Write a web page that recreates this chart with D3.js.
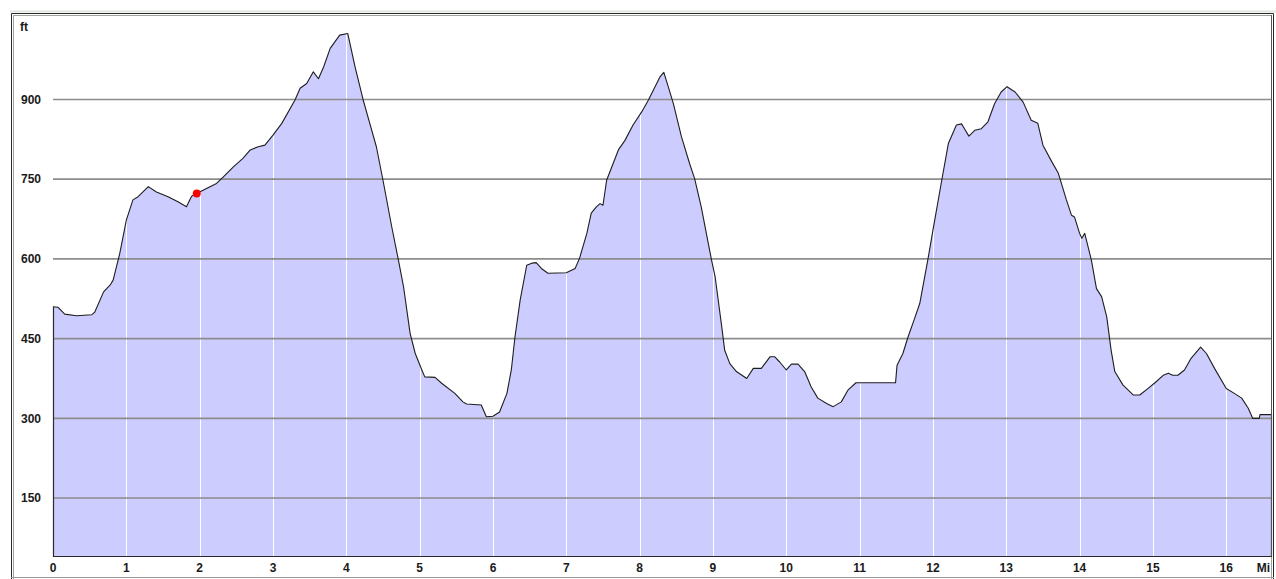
<!DOCTYPE html>
<html>
<head>
<meta charset="utf-8">
<script src="https://cdn.jsdelivr.net/npm/d3@7"></script>
<style>
  html, body { margin: 0; padding: 0; background: #fff; }
  svg { display: block; }
  text { font-family: "Liberation Sans", Arial, sans-serif; font-weight: bold; font-size: 12px; fill: #1a1a1a; }
</style>
</head>
<body>
<svg id="chart" width="1276" height="579"></svg>
<script>
// elevation profile, distance in miles / elevation in feet
var miles = [0, 0.07, 0.16, 0.32, 0.53, 0.57, 0.69, 0.78, 0.82, 0.91, 1.00, 1.09, 1.16, 1.30, 1.41, 1.57, 1.71, 1.82, 1.89, 1.96,
    2.10, 2.23, 2.32, 2.46, 2.59, 2.69, 2.80, 2.89, 3.00, 3.12, 3.30, 3.37, 3.46, 3.55, 3.62, 3.69, 3.78, 3.91, 4.02,
    4.12, 4.23, 4.32, 4.41, 4.50, 4.62, 4.71, 4.78, 4.87, 4.94, 5.03, 5.07, 5.21, 5.30, 5.48, 5.59, 5.64, 5.84, 5.91,
    6.00, 6.09, 6.19, 6.25, 6.30, 6.37, 6.46, 6.53, 6.59, 6.66, 6.75, 7.00, 7.12, 7.18, 7.28, 7.34, 7.41, 7.46, 7.50,
    7.55, 7.62, 7.71, 7.80, 7.91, 8.03, 8.12, 8.21, 8.28, 8.33, 8.39, 8.46, 8.57, 8.68, 8.75, 8.84, 8.98, 9.03, 9.12,
    9.16, 9.23, 9.32, 9.46, 9.55, 9.66, 9.78, 9.84, 9.91, 10.00, 10.07, 10.16, 10.25, 10.34, 10.43, 10.55, 10.64,
    10.75, 10.84, 10.95, 11.21, 11.49, 11.51, 11.59, 11.66, 11.75, 11.82, 11.93, 12.00, 12.12, 12.21, 12.32, 12.39,
    12.43, 12.49, 12.57, 12.66, 12.75, 12.84, 12.93, 13.01, 13.12, 13.23, 13.34, 13.43, 13.50, 13.62, 13.71, 13.82,
    13.89, 13.93, 14.00, 14.03, 14.07, 14.16, 14.23, 14.30, 14.37, 14.43, 14.48, 14.59, 14.73, 14.82, 14.93, 15.02,
    15.14, 15.21, 15.27, 15.34, 15.43, 15.52, 15.65, 15.73, 15.84, 16.00, 16.11, 16.21, 16.30, 16.36, 16.45, 16.46, 16.61];
var feet = [510, 509, 496, 493, 495, 500, 538, 551, 560, 610, 673, 711, 717, 736, 726, 717, 707, 698, 718, 723,
    733, 742, 754, 773, 789, 805, 811, 814, 833, 855, 899, 921, 930, 952, 939, 961, 996, 1021, 1024,
    961, 899, 855, 811, 748, 660, 598, 548, 460, 422, 391, 378, 377, 366, 347, 331, 327, 325, 303,
    304, 312, 347, 391, 453, 522, 588, 592, 593, 582, 573, 574, 582, 601, 648, 686, 698, 704, 701,
    748, 773, 805, 823, 852, 877, 899, 924, 943, 951, 924, 892, 830, 780, 751, 698, 598, 566, 472,
    428, 403, 388, 375, 394, 394, 416, 416, 406, 391, 402, 402, 388, 359, 338, 328, 322,
    331, 353, 367, 367, 367, 400, 422, 453, 488, 516, 598, 654, 748, 817, 852, 854,
    845, 831, 842, 845, 858, 892, 914, 924, 914, 895, 861, 855, 814, 783, 761, 711,
    682, 679, 648, 639, 648, 598, 544, 529, 491, 428, 388, 363, 344, 344, 356, 366,
    381, 385, 381, 381, 391, 413, 434, 422, 394, 356, 347, 338, 319, 300, 300, 307, 307];

var yTicks = [150, 300, 450, 600, 750, 900];
var xTicks = [0, 1, 2, 3, 4, 5, 6, 7, 8, 9, 10, 11, 12, 13, 14, 15, 16];
var xDomain = [0, 16.61];
var yDomain = [41, 1057];
var marker = { mile: 1.96, ft: 723 };

var Chart = (function () {
    function Chart(el) {
        this.el = el;
        this.left = 53;
        this.right = 1271;
        this.top = 16;
        this.bottom = 556;
        this.x = d3.scaleLinear().domain(xDomain).range([this.left, this.right]);
        this.y = d3.scaleLinear().domain(yDomain).range([this.bottom, this.top]);
        this.points = miles.map(function (m, i) {
            return { mile: m, ft: feet[i] };
        });
    }

    Chart.prototype.renderFrame = function () {
        var svg = this.el;
        svg.append("rect").attr("x", 0).attr("y", 0).attr("width", 1276).attr("height", 579).attr("fill", "#fff");
        svg.append("line").attr("x1", 10).attr("x2", 1276).attr("y1", 11.5).attr("y2", 11.5)
            .attr("stroke", "#dfe6e0").attr("stroke-width", 2);
        svg.append("path")
            .attr("d", "M11.5,579V13.5H1273.5V579")
            .attr("fill", "none").attr("stroke", "#2a2a2a").attr("stroke-width", 1);
        svg.append("path")
            .attr("d", "M13.5,579V15.5H1271.5V579")
            .attr("fill", "none").attr("stroke", "#a0a0a0").attr("stroke-width", 1);
        svg.append("line").attr("x1", 11).attr("x2", 1274).attr("y1", 577.5).attr("y2", 577.5)
            .attr("stroke", "#9a9a9a").attr("stroke-width", 1);
    };

    Chart.prototype.render = function () {
        var self = this;
        var svg = this.el;

        self.renderFrame();

        var area = d3.area()
            .x(function (d) { return self.x(d.mile); })
            .y0(self.bottom)
            .y1(function (d) { return self.y(d.ft); });

        svg.append("path").datum(self.points)
            .attr("d", area)
            .attr("fill", "#ccccff");

        // white mile lines sit on the fill only
        svg.append("g").selectAll("line").data(xTicks.slice(1)).enter().append("line")
            .attr("x1", function (d) { return Math.round(self.x(d)) + 0.5; })
            .attr("x2", function (d) { return Math.round(self.x(d)) + 0.5; })
            .attr("y1", self.top).attr("y2", self.bottom)
            .attr("stroke", "#fff").attr("stroke-width", 1);

        svg.append("g").selectAll("line").data(yTicks).enter().append("line")
            .attr("x1", self.left).attr("x2", self.right)
            .attr("y1", function (d) { return self.y(d); })
            .attr("y2", function (d) { return self.y(d); })
            .attr("stroke", "#8c8c8c").attr("stroke-width", 1.6);

        var line = d3.line()
            .x(function (d) { return self.x(d.mile); })
            .y(function (d) { return self.y(d.ft); });

        svg.append("path").datum(self.points)
            .attr("d", line)
            .attr("fill", "none").attr("stroke", "#1e1e1e").attr("stroke-width", 1.1)
            .attr("stroke-linejoin", "round");

        var first = self.points[0];
        var last = self.points[self.points.length - 1];
        svg.append("path")
            .attr("d", "M" + (self.left + 0.5) + "," + self.y(first.ft) + "V" + (self.bottom + 0.5) +
                "H" + (self.right + 0.5) + "V" + self.y(last.ft))
            .attr("fill", "none").attr("stroke", "#2a2a2a").attr("stroke-width", 1.2);
        svg.append("line").attr("x1", self.right + 0.5).attr("x2", self.right + 0.5)
            .attr("y1", 15).attr("y2", self.bottom)
            .attr("stroke", "#555").attr("stroke-width", 1);

        svg.append("circle")
            .attr("cx", self.x(marker.mile)).attr("cy", self.y(marker.ft)).attr("r", 4)
            .attr("fill", "#ff0000");

        svg.append("g").selectAll("text").data(yTicks).enter().append("text")
            .attr("x", 41).attr("y", function (d) { return self.y(d); })
            .attr("dy", "0.35em").attr("text-anchor", "end")
            .text(function (d) { return d; });

        svg.append("text").attr("x", 20).attr("y", 27).attr("dy", "0.35em").text("ft");

        svg.append("g").selectAll("text").data(xTicks).enter().append("text")
            .attr("x", function (d) { return self.x(d); })
            .attr("y", 568).attr("dy", "0.35em").attr("text-anchor", "middle")
            .text(function (d) { return d; });

        svg.append("text").attr("x", 1270).attr("y", 568).attr("dy", "0.35em")
            .attr("text-anchor", "end").text("Mi");
    };
    return Chart;
})();

new Chart(d3.select("#chart")).render();
</script>
</body>
</html>
